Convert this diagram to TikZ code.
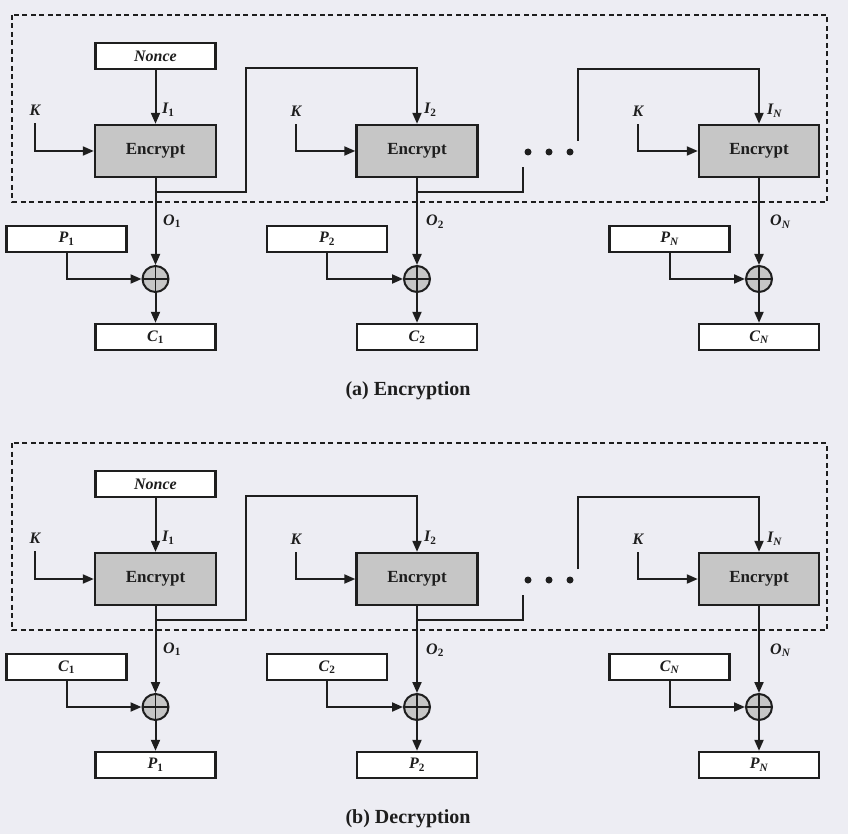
\documentclass[tikz,border=0pt]{standalone}
\usepackage{fontspec}
\setmainfont{Liberation Serif}
\usetikzlibrary{arrows.meta}
\definecolor{bg}{RGB}{237,237,243}
\definecolor{encfill}{RGB}{198,198,198}
\definecolor{ink}{RGB}{30,30,30}
\begin{document}
\begin{tikzpicture}[x=1pt,y=-1pt,
  every node/.style={inner sep=0pt},
  wbox/.style={draw=ink, line width=2.4pt, fill=white, minimum width=120pt, minimum height=26pt, font=\fontsize{16}{16}\selectfont\bfseries\itshape, text=ink},
  encbox/.style={draw=ink, line width=2.4pt, fill=encfill, minimum width=121pt, minimum height=52pt, font=\fontsize{17}{17}\selectfont\bfseries, text=ink},
  xorn/.style={circle, draw=ink, line width=2pt, fill=encfill, minimum size=26pt,
    path picture={\draw[ink,line width=1.8pt] (path picture bounding box.north) -- (path picture bounding box.south) (path picture bounding box.west) -- (path picture bounding box.east);}},
  lbl/.style={font=\fontsize{16}{16}\selectfont\bfseries\itshape, text=ink},
  conn/.style={draw=ink, line width=2pt},
  arr/.style={conn, -{Triangle[length=11pt,width=9pt]}},
  frame/.style={draw=ink, line width=2.2pt, dash pattern=on 5pt off 3.5pt},
  dotn/.style={circle, fill=ink, minimum size=7pt},
  capn/.style={font=\fontsize{20}{20}\selectfont\bfseries, text=ink}
]
\fill[bg] (0,0) rectangle (848,834);
\useasboundingbox (0,0) rectangle (848,834);
\foreach \p/\dy/\ia/\ib/\cp in {a/0/P/C/{(a) Encryption}, b/428/C/P/{(b) Decryption}}{
\begin{scope}[yshift=-\dy pt]
  \draw[frame] (12,15) rectangle (827,202);
  \node[wbox] (nonce\p) at (155.5,56) {Nonce};
  \node[encbox] (ea\p) at (155.5,151) {Encrypt};
  \node[encbox] (eb\p) at (417,151) {Encrypt};
  \node[encbox, minimum width=120pt] (en\p) at (759,151) {Encrypt};
  \node[xorn] (xa\p) at (155.5,279) {};
  \node[xorn] (xb\p) at (417,279) {};
  \node[xorn] (xn\p) at (759,279) {};
  \node[wbox] (ia\p) at (66.5,239) {\ia\textsubscript{\upshape 1}};
  \node[wbox] (ib\p) at (327,239) {\ia\textsubscript{\upshape 2}};
  \node[wbox] (in\p) at (669.5,239) {\ia\textsubscript{N}};
  \node[wbox] (oa\p) at (155.5,337) {\ib\textsubscript{\upshape 1}};
  \node[wbox] (ob\p) at (417,337) {\ib\textsubscript{\upshape 2}};
  \node[wbox] (on\p) at (759,337) {\ib\textsubscript{N}};
  \node[lbl] (ka\p) at (35,110) {K};
  \node[lbl] (kb\p) at (296,111) {K};
  \node[lbl] (kn\p) at (638,111) {K};
  \node[lbl, anchor=west] (la\p) at (162,110) {I\textsubscript{\upshape 1}};
  \node[lbl, anchor=west] (lb\p) at (424,110) {I\textsubscript{\upshape 2}};
  \node[lbl, anchor=west] (ln\p) at (767,111) {I\textsubscript{N}};
  \node[lbl, anchor=west] (pa\p) at (163,221) {O\textsubscript{\upshape 1}};
  \node[lbl, anchor=west] (pb\p) at (426,222) {O\textsubscript{\upshape 2}};
  \node[lbl, anchor=west] (pn\p) at (770,222) {O\textsubscript{N}};
  \node[dotn] (d1\p) at (528,152) {};
  \node[dotn] (d2\p) at (549,152) {};
  \node[dotn] (d3\p) at (570,152) {};
  \node[capn] (cap\p) at (408,391) {\cp};
  \coordinate (ta\p) at (155.5,192);
  \coordinate (fa\p) at (246,68);
  \coordinate (tb\p) at (417,192);
  \coordinate (fb\p) at (523,167);
  \coordinate (fc\p) at (578,141);
  \coordinate (fd\p) at (759,69);
  \draw[arr] (nonce\p) -- (ea\p);
  \draw[arr] ([yshift=-8pt]ka\p.south) |- (ea\p.west);
  \draw[arr] ([yshift=-8pt]kb\p.south) |- (eb\p.west);
  \draw[arr] ([yshift=-8pt]kn\p.south) |- (en\p.west);
  \draw[arr] (ta\p) -| (fa\p) -| (eb\p.north);
  \draw[conn] (tb\p) -| (fb\p);
  \draw[arr] (fc\p) |- (fd\p) -- (en\p.north);
  \draw[arr] (ea\p) -- (xa\p);
  \draw[arr] (eb\p) -- (xb\p);
  \draw[arr] (en\p) -- (xn\p);
  \draw[arr] (ia\p.south) |- (xa\p.west);
  \draw[arr] (ib\p.south) |- (xb\p.west);
  \draw[arr] (in\p.south) |- (xn\p.west);
  \draw[arr] (xa\p) -- (oa\p);
  \draw[arr] (xb\p) -- (ob\p);
  \draw[arr] (xn\p) -- (on\p);
\end{scope}
}
\end{tikzpicture}
\end{document}
